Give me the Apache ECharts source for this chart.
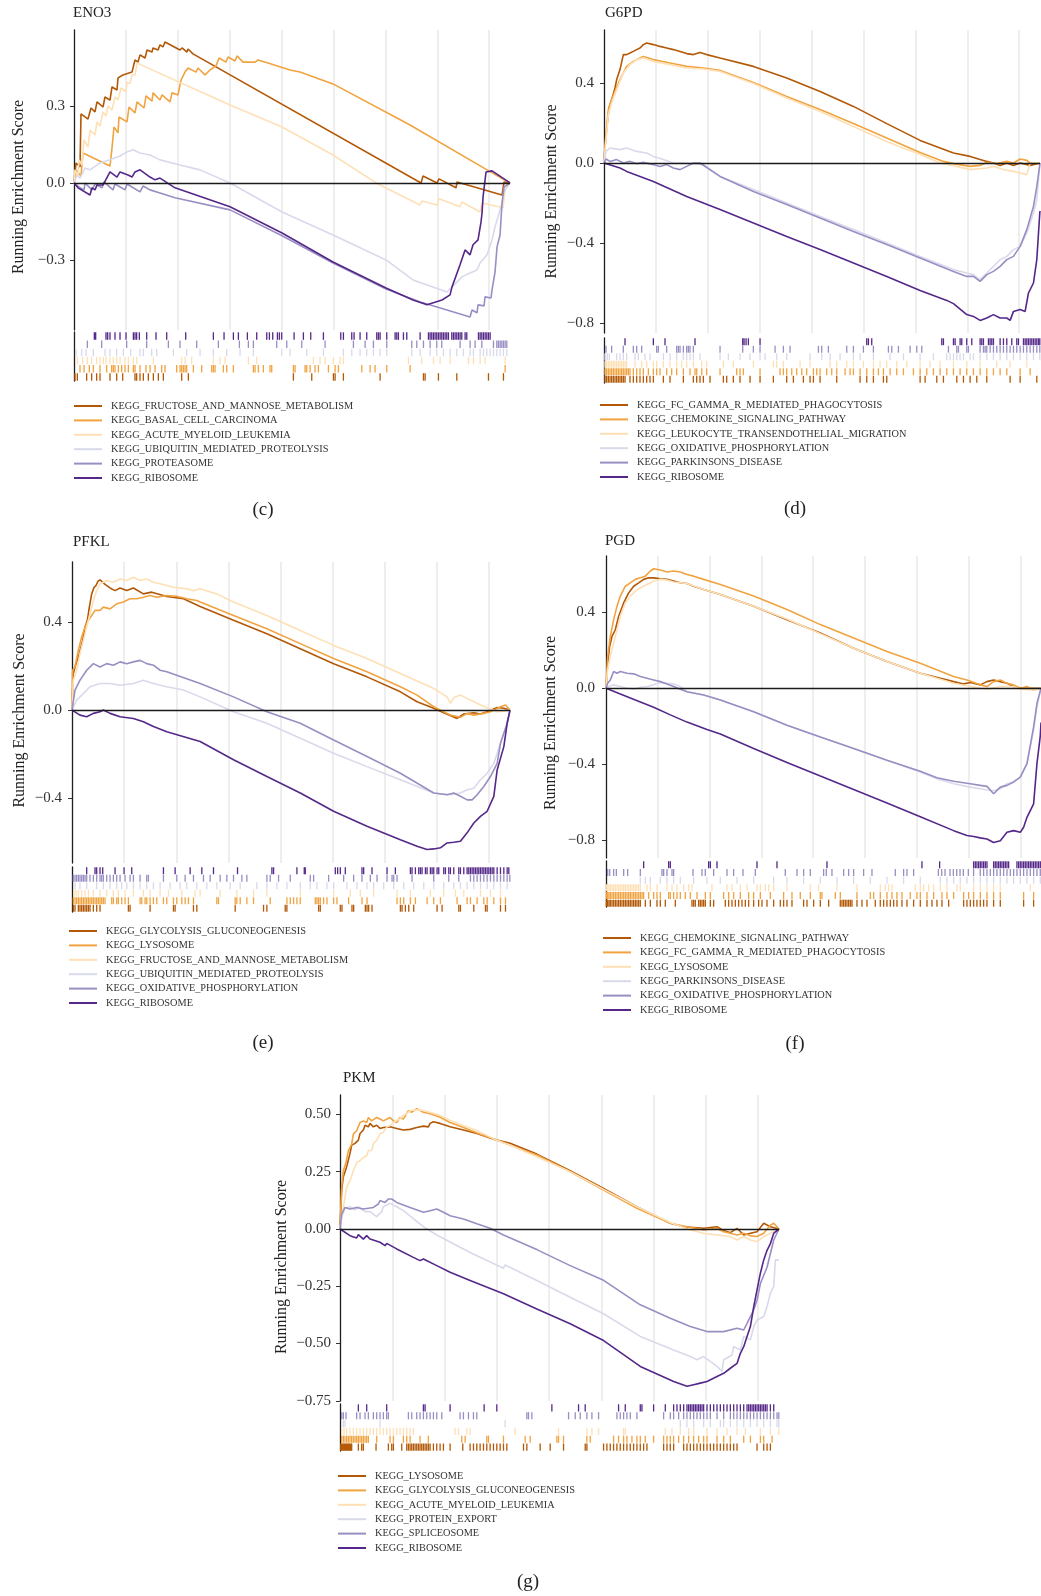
<!DOCTYPE html>
<html>
<head>
<meta charset="utf-8">
<script src="https://cdn.jsdelivr.net/npm/echarts@6/dist/echarts.min.js"></script>
<style>html,body{margin:0;padding:0;background:#fff}#chart{width:1041px;height:1596px}</style>
</head>
<body>
<div id="chart"></div>
<script>
const N_GENES = 21000;
const PALETTE = ['#B35806', '#F1A340', '#FEE0B6', '#D8DAEB', '#998EC3', '#542788'];

/* ---------- (c) ENO3 ---------- */
const enoTerms = ['KEGG_FRUCTOSE_AND_MANNOSE_METABOLISM','KEGG_BASAL_CELL_CARCINOMA','KEGG_ACUTE_MYELOID_LEUKEMIA','KEGG_UBIQUITIN_MEDIATED_PROTEOLYSIS','KEGG_PROTEASOME','KEGG_RIBOSOME'];
const enoFructose = [[0,0],[96,0.078],[289,0.062],[337,0.269],[674,0.249],[819,0.292],[1012,0.277],[1108,0.316],[1397,0.296],[1493,0.335],[1734,0.323],[1830,0.374],[2071,0.362],[2119,0.409],[2360,0.421],[2794,0.432],[2938,0.479],[3083,0.471],[3179,0.499],[3420,0.487],[3516,0.518],[3757,0.51],[3805,0.526],[4046,0.518],[4143,0.538],[4287,0.53],[4383,0.549],[5106,0.518],[5202,0.526],[5443,0.51],[5491,0.522],[5732,0.503],[16715,0],[16811,0.027],[17486,0],[17582,0.016],[18401,-0.019],[18449,0.004],[20617,-0.047],[20713,0.004],[21000,0]];
const enoBasal = [[0,0],[96,0.051],[337,0.027],[434,0.117],[1734,0.066],[1830,0.136],[1927,0.218],[2119,0.195],[2168,0.257],[2553,0.238],[2649,0.296],[2938,0.273],[3035,0.316],[3372,0.292],[3468,0.339],[3757,0.319],[3805,0.351],[4143,0.323],[4239,0.343],[4624,0.316],[4721,0.351],[5010,0.343],[5154,0.401],[5347,0.432],[5491,0.448],[5877,0.432],[5973,0.448],[6310,0.421],[6551,0.44],[6840,0.456],[6985,0.487],[7322,0.471],[7418,0.491],[7755,0.475],[7852,0.495],[8141,0.471],[8719,0.471],[8863,0.479],[9345,0.467],[10405,0.44],[10886,0.432],[12476,0.386],[16185,0.226],[19894,0.051],[21000,0]];
const enoAml = [[0,0],[48,0.051],[193,0.027],[241,0.09],[385,0.07],[482,0.168],[674,0.14],[771,0.206],[1012,0.187],[1108,0.238],[1252,0.222],[1397,0.277],[1541,0.261],[1638,0.3],[1830,0.284],[1975,0.335],[2119,0.323],[2264,0.37],[2505,0.355],[2553,0.393],[2698,0.386],[2794,0.421],[2938,0.421],[3035,0.467],[7515,0.304],[10020,0.218],[12476,0.109],[14547,0],[16667,-0.086],[16763,-0.07],[17486,-0.086],[17582,-0.062],[18594,-0.093],[18690,-0.074],[19557,-0.113],[19653,-0.078],[20665,-0.097],[20761,-0.027],[21000,0]];
const enoUbiquitin = [[0,0],[145,0.031],[289,0.019],[530,0.058],[771,0.051],[1252,0.078],[1734,0.09],[2216,0.105],[2553,0.121],[2842,0.129],[3179,0.117],[3661,0.109],[4143,0.09],[5106,0.07],[6069,0.051],[7515,0],[10020,-0.113],[12476,-0.203],[15029,-0.3],[16330,-0.378],[17967,-0.425],[18208,-0.405],[18690,-0.366],[19075,-0.351],[19412,-0.339],[19557,-0.312],[19894,-0.28],[20135,-0.222],[20279,-0.171],[20424,-0.132],[20617,-0.078],[20761,-0.027],[21000,0]];
const enoProteasome = [[0,0],[289,-0.019],[482,-0.027],[530,0],[867,-0.027],[1012,-0.004],[1349,-0.019],[1445,0.004],[1879,-0.027],[1975,-0.004],[2457,-0.027],[2553,-0.004],[3179,-0.035],[3324,-0.012],[3661,-0.027],[4143,-0.039],[4865,-0.058],[7515,-0.105],[10020,-0.206],[12476,-0.312],[15029,-0.413],[16667,-0.464],[17486,-0.483],[19075,-0.522],[19171,-0.495],[19412,-0.506],[19460,-0.475],[19749,-0.479],[19797,-0.444],[20086,-0.448],[20135,-0.417],[20279,-0.347],[20376,-0.249],[20520,-0.203],[20617,-0.078],[20713,-0.016],[21000,0]];
const enoRibosome = [[0,0],[193,-0.019],[771,-0.047],[867,-0.019],[1012,-0.027],[1108,-0.008],[1397,-0.008],[1734,0.043],[2071,0.023],[2216,0.043],[2601,0.031],[2794,0.023],[2938,0.043],[3179,0.051],[3661,0.023],[3902,0.012],[4143,0.019],[4865,-0.019],[7515,-0.093],[10020,-0.195],[12476,-0.308],[15029,-0.409],[16330,-0.456],[17004,-0.475],[17726,-0.456],[18112,-0.436],[18208,-0.405],[18594,-0.319],[18835,-0.261],[19075,-0.28],[19220,-0.241],[19460,-0.222],[19605,-0.152],[19653,-0.117],[19701,-0.055],[19846,0.043],[20135,0.047],[21000,0]];
const enoFructoseHits = [48,161,610,851,1092,1253,1734,2056,2345,2939,3019,3180,3340,3581,3822,4063,4304,5187,5509,10567,11451,12495,12575,12976,14743,16831,16911,17553,18437,19963,20685];
const enoBasalHits = [289,482,739,931,1253,1574,1815,1895,1975,2136,2297,2457,2618,2859,2939,3180,3469,3662,3903,4224,4384,4946,5107,5187,5268,5348,5428,5749,6151,6633,6713,6793,7195,7355,7677,8640,8721,8881,9122,9443,9524,10567,10648,11130,11210,11370,11611,11772,12254,12575,12736,13860,14261,14502,15064,16188,20766];
const enoAmlHits = [161,418,642,851,1092,1253,1413,1542,1734,1895,2056,2216,2457,2618,2859,3019,3822,5187,5348,5669,6713,7034,7275,8399,8801,11531,11852,12093,12495,12816,12976,16108,16750,17313,17634,18116,18999,19240,19561,19802,20766];
const enoUbiquitinHits = [96,369,578,931,1494,1734,2056,2377,2730,3180,3340,3742,3983,4786,5428,6071,6713,7355,7998,8640,10005,10407,11210,12013,12976,13378,13779,14100,14422,14743,15064,16269,16670,17152,17473,17794,18116,18437,18758,19079,19240,19561,19722,19883,20043,20204,20364,20525,20685,20846];
const enoProteasomeHits = [642,1333,2537,3501,4545,5107,5910,6954,7966,8399,8640,9764,10246,10969,12093,13458,14020,14422,15064,16269,16510,16831,17152,17473,17714,18597,19079,19320,19642,20204,20364,20444,20525,20605,20685,20766,20846];
const enoRibosomeHits = [980,1044,1542,1622,1734,1975,2216,2505,2859,2939,3019,3148,3501,3951,4465,5380,6713,7227,7677,7918,8351,8801,9283,9411,9572,9797,9893,10005,10600,11049,11403,12013,12848,12976,13378,13490,13779,14100,14582,14662,14743,15064,15465,15546,15626,15867,16028,16670,17072,17152,17232,17313,17393,17473,17553,17634,17714,17794,17875,17955,18035,18196,18276,18356,18437,18517,18597,18678,18838,18919,19481,19562,19642,19722,19803,19883,19963,20043];

/* ---------- (d) G6PD ---------- */
const g6pdTerms = ['KEGG_FC_GAMMA_R_MEDIATED_PHAGOCYTOSIS','KEGG_CHEMOKINE_SIGNALING_PATHWAY','KEGG_LEUKOCYTE_TRANSENDOTHELIAL_MIGRATION','KEGG_OXIDATIVE_PHOSPHORYLATION','KEGG_PARKINSONS_DISEASE','KEGG_RIBOSOME'];
const g6pdFcGamma = [[0,0],[48,0.083],[161,0.2],[257,0.283],[369,0.317],[530,0.375],[610,0.417],[771,0.467],[931,0.542],[1092,0.542],[1253,0.55],[1413,0.558],[1574,0.567],[1734,0.575],[1895,0.592],[2056,0.6],[2377,0.592],[2698,0.583],[3019,0.575],[3340,0.567],[3662,0.558],[3983,0.547],[4304,0.542],[4625,0.553],[4946,0.542],[5589,0.525],[7195,0.483],[8801,0.425],[10407,0.358],[12013,0.283],[13619,0.197],[15225,0.113],[16831,0.05],[17634,0.033],[18437,0.008],[18758,0],[19079,-0.012],[19400,0],[19722,-0.012],[20043,0],[20525,-0.012],[21000,0]];
const g6pdChemokine = [[0,0],[96,0.15],[209,0.267],[369,0.317],[530,0.358],[771,0.417],[1092,0.483],[1413,0.508],[1734,0.525],[1895,0.533],[2377,0.517],[3180,0.5],[3983,0.483],[4786,0.475],[5589,0.463],[7195,0.403],[8801,0.333],[10407,0.267],[12013,0.197],[13619,0.125],[15225,0.053],[16349,0.008],[16831,-0.003],[17634,-0.017],[18116,-0.012],[18437,0.003],[18919,-0.003],[19400,0.008],[19722,0],[20043,0.02],[20364,0.013],[20525,0],[21000,0]];
const g6pdLeukocyte = [[0,0],[96,0.117],[209,0.242],[369,0.3],[610,0.367],[931,0.45],[1253,0.492],[1574,0.517],[1895,0.525],[2377,0.508],[3180,0.492],[3983,0.475],[4786,0.47],[5589,0.458],[7195,0.397],[8801,0.325],[10407,0.258],[12013,0.183],[13619,0.108],[15225,0.042],[16188,0],[16831,-0.013],[17634,-0.033],[18437,-0.025],[18758,-0.017],[19240,-0.033],[19722,-0.042],[20364,-0.058],[20525,0],[21000,0]];
const g6pdOxidative = [[0,0],[96,0.058],[289,0.075],[771,0.067],[1092,0.075],[1574,0.058],[2056,0.05],[2377,0.033],[2859,0.017],[3340,0],[3983,0],[4786,-0.008],[5589,-0.067],[7195,-0.133],[8801,-0.2],[10407,-0.267],[12013,-0.333],[13619,-0.4],[15225,-0.467],[16831,-0.533],[17473,-0.55],[17794,-0.558],[18116,-0.583],[18437,-0.55],[18758,-0.517],[19079,-0.483],[19400,-0.467],[19722,-0.433],[20043,-0.417],[20364,-0.35],[20685,-0.25],[20846,-0.183],[21000,0]];
const g6pdParkinsons = [[0,0],[96,0.02],[289,0.008],[610,0.017],[931,0],[1253,0.008],[1574,-0.003],[1895,0.003],[2377,-0.008],[2698,-0.017],[3019,-0.008],[3340,-0.025],[3662,-0.033],[3983,-0.017],[4304,0],[4625,0],[5589,-0.067],[7195,-0.142],[8801,-0.208],[10407,-0.275],[12013,-0.342],[13619,-0.408],[15225,-0.475],[16831,-0.542],[17473,-0.567],[17794,-0.567],[18116,-0.592],[18437,-0.558],[18758,-0.542],[19079,-0.517],[19400,-0.483],[19722,-0.467],[20043,-0.417],[20364,-0.333],[20685,-0.217],[20846,-0.117],[21000,0]];
const g6pdRibosome = [[0,0],[771,-0.025],[1092,-0.042],[2377,-0.092],[3983,-0.167],[5589,-0.233],[7195,-0.3],[8801,-0.367],[10407,-0.433],[12013,-0.5],[13619,-0.567],[15225,-0.637],[16510,-0.687],[16831,-0.703],[17473,-0.758],[17794,-0.767],[18116,-0.787],[18437,-0.775],[18758,-0.758],[19079,-0.775],[19400,-0.775],[19561,-0.787],[19722,-0.742],[20043,-0.733],[20284,-0.742],[20444,-0.65],[20685,-0.6],[20846,-0.483],[20990,-0.25],[21000,-0.24]];
const g6pdFcGammaHits = [48,128,209,289,369,450,530,610,690,771,851,931,1012,1253,1413,1574,1734,1895,2056,2216,2377,2859,3180,3822,4304,4465,4625,4786,5107,5749,5910,6231,6552,7034,7516,8158,8801,9122,9604,9925,10086,10407,11210,12334,12655,12976,13458,13619,15225,15466,16028,16349,16992,17313,17634,17955,18437,19561,20043,20846];
const g6pdChemokineHits = [48,128,209,289,369,450,530,610,690,771,851,931,1012,1092,1172,1253,1413,1574,1734,1895,2136,2377,2537,2698,3019,3260,3501,3822,4143,4384,4465,4706,4946,5589,6392,6552,6713,7516,8480,8640,8801,9042,9283,9524,9764,10086,10246,10407,10728,10969,11210,11611,11852,12013,12334,12655,12976,13217,13458,13779,14100,14422,14904,15225,15546,15867,16188,16510,16831,17152,17473,17794,18116,18437,18758,19079,19400,20043,20525];
const g6pdLeukocyteHits = [48,128,209,289,369,450,530,610,690,771,851,931,1012,1092,1494,1815,2056,2377,2537,2859,3180,3501,3742,3983,4304,4706,4946,5749,6231,7195,8158,8319,8640,9443,9925,10889,11210,11692,12013,12495,12976,13297,13619,14100,14582,15225,15707,16188,16831,17473,18116,18919,19561,20364];
const g6pdOxidativeHits = [48,161,257,610,771,931,1092,1494,1654,1975,2216,2859,3180,3501,3822,3983,4143,4304,4625,5589,5990,6552,7034,7516,7757,8319,8801,9925,10487,10889,11370,12013,12334,12976,13779,14422,15225,15867,16510,16670,16831,16992,17152,17313,17634,17794,18116,18437,18758,19079,19400,19722,20043,20364,20685,20990];
const g6pdParkinsonsHits = [96,369,931,1413,1574,1815,2537,2618,3019,3501,3581,3662,3822,3983,4063,4143,4304,5589,6681,7195,7516,8239,8640,8961,10327,10487,10808,11692,12013,12495,12976,13699,13860,14181,14743,15064,15305,16590,16992,17072,17473,17553,18116,18276,18357,18437,18598,18758,18919,19079,19240,19400,19561,19722,19882,20043,20203,20364,20525,20685,20846,20990];
const g6pdRibosomeHits = [1012,2377,2939,4384,6681,6745,6842,6954,7516,12655,12736,12896,16269,16349,16831,16911,17152,17232,17473,17714,18116,18196,18276,18517,18597,18678,18758,19079,19240,19400,19641,19882,19963,20203,20284,20364,20444,20525,20605,20685,20766,20846,20926,20990];

/* ---------- (e) PFKL ---------- */
const pfklTerms = ['KEGG_GLYCOLYSIS_GLUCONEOGENESIS','KEGG_LYSOSOME','KEGG_FRUCTOSE_AND_MANNOSE_METABOLISM','KEGG_UBIQUITIN_MEDIATED_PROTEOLYSIS','KEGG_OXIDATIVE_PHOSPHORYLATION','KEGG_RIBOSOME'];
const pfklGlycolysis = [[0,0],[64,0.166],[192,0.211],[352,0.257],[512,0.317],[624,0.377],[736,0.408],[832,0.468],[944,0.528],[1056,0.558],[1152,0.566],[1248,0.586],[1344,0.592],[1584,0.571],[1824,0.555],[2064,0.543],[2304,0.555],[2624,0.543],[2944,0.555],[3424,0.528],[3824,0.536],[4544,0.516],[5344,0.506],[6144,0.471],[7744,0.408],[9344,0.347],[10944,0.279],[12544,0.211],[14144,0.151],[15744,0.083],[16544,0.038],[17344,0.008],[17824,-0.012],[18464,-0.038],[18784,-0.018],[19264,-0.012],[19584,-0.018],[19904,-0.008],[20384,0.012],[20704,0.008],[21000,0]];
const pfklLysosome = [[0,0],[32,0.181],[144,0.196],[304,0.272],[464,0.332],[624,0.377],[784,0.408],[944,0.43],[1104,0.453],[1344,0.453],[1504,0.468],[1824,0.46],[2144,0.483],[2464,0.491],[2784,0.506],[3104,0.506],[3424,0.513],[3744,0.521],[4064,0.513],[4544,0.521],[5024,0.517],[5504,0.506],[5984,0.498],[6144,0.491],[7744,0.43],[9344,0.37],[10944,0.302],[12544,0.234],[14144,0.174],[15744,0.106],[16544,0.068],[17344,0.015],[18144,-0.023],[18624,-0.033],[18944,-0.015],[19264,-0.023],[19744,-0.015],[20064,-0.008],[20544,0.015],[20784,0.023],[21000,0]];
const pfklFructose = [[0,0],[64,0.136],[224,0.181],[384,0.257],[544,0.317],[704,0.377],[864,0.438],[1024,0.498],[1184,0.543],[1344,0.573],[1664,0.589],[1984,0.581],[2304,0.596],[2624,0.589],[2944,0.604],[3264,0.589],[3584,0.596],[3904,0.581],[4224,0.574],[4544,0.566],[4864,0.558],[5504,0.551],[5824,0.543],[6144,0.551],[6944,0.528],[7744,0.491],[9344,0.43],[10944,0.362],[12544,0.294],[14144,0.234],[15744,0.166],[17344,0.098],[17984,0.06],[18144,0.03],[18304,0.057],[18624,0.068],[19584,0.023],[20384,-0.008],[21000,0]];
const pfklUbiquitin = [[0,0],[224,0.045],[544,0.075],[864,0.106],[1344,0.121],[1824,0.121],[2304,0.113],[2944,0.121],[3424,0.136],[3904,0.121],[4544,0.106],[5344,0.091],[6144,0.06],[7744,-0.008],[9344,-0.06],[10944,-0.128],[12544,-0.196],[14144,-0.257],[15744,-0.317],[17344,-0.377],[18144,-0.385],[18624,-0.377],[18944,-0.362],[19264,-0.355],[19584,-0.317],[19904,-0.287],[20224,-0.242],[20544,-0.151],[20864,-0.06],[21000,0]];
const pfklOxidative = [[0,0],[144,0.091],[384,0.136],[704,0.181],[1024,0.211],[1344,0.196],[1664,0.211],[1984,0.204],[2304,0.219],[2624,0.211],[2944,0.219],[3264,0.226],[3584,0.211],[3904,0.204],[4224,0.181],[4544,0.174],[6144,0.121],[7744,0.06],[9344,-0.008],[10944,-0.06],[12544,-0.136],[14144,-0.211],[15744,-0.287],[17344,-0.377],[17984,-0.385],[18304,-0.377],[18624,-0.392],[18944,-0.408],[19184,-0.408],[19424,-0.385],[19744,-0.347],[20064,-0.302],[20384,-0.242],[20544,-0.151],[20864,-0.06],[21000,0]];
const pfklRibosome = [[0,0],[384,-0.023],[704,-0.03],[1024,-0.015],[1344,-0.008],[1504,0],[1824,-0.015],[2304,-0.03],[2944,-0.038],[3424,-0.053],[3904,-0.075],[4544,-0.098],[6144,-0.143],[7744,-0.226],[9344,-0.302],[10944,-0.377],[12544,-0.46],[14144,-0.528],[15744,-0.589],[16544,-0.619],[17024,-0.634],[17344,-0.631],[17664,-0.626],[17984,-0.604],[18304,-0.601],[18624,-0.596],[18944,-0.558],[19264,-0.513],[19584,-0.483],[19904,-0.46],[20224,-0.392],[20384,-0.272],[20704,-0.166],[20864,-0.06],[21000,0]];
const pfklGlycolysisHits = [64,144,304,384,464,544,624,704,784,864,1024,1184,1344,2704,2784,3744,4864,4944,5824,5984,7824,9184,9344,10224,10304,11824,11904,12864,12944,13424,13504,14064,14144,14224,14384,15744,15824,15984,16144,16384,17504,17744,18544,18624,19264,19824,19904,20544,20784];
const pfklLysosomeHits = [64,144,224,304,384,464,544,624,704,784,864,944,1024,1104,1184,1264,1344,1424,1504,1584,1904,1984,2144,2224,2384,2544,2704,3264,3344,3504,3584,3744,3904,4064,4384,4544,4864,5024,5264,5424,5584,5824,6944,7024,7824,7904,8064,8384,8704,9504,10304,10464,10624,10784,10944,11664,11744,11824,11904,12064,12224,12544,12704,13264,13904,14144,15584,15744,15904,16224,16464,17024,17344,17664,18464,18944,19104,19424,19744,19904,20224,20544,20784];
const pfklFructoseHits = [96,192,304,464,624,784,1024,1344,1664,1984,2224,2544,2944,3424,3744,4224,4624,5264,5904,6144,7104,7904,8704,9344,10944,12544,13344,13824,14464,15584,16224,17184,17824,18384,18784,19584,20064,20544];
const pfklUbiquitinHits = [144,384,704,1184,1504,1824,2144,2384,2624,2944,3264,3584,3904,4224,4704,5184,5504,5984,6464,6944,7584,8064,8864,9344,9824,10304,10944,11424,11744,12224,12544,13184,13664,14144,14464,14944,15424,15904,16384,16864,17344,17824,18304,18624,18944,19264,19584,19904,20224,20544,20864];
const pfklOxidativeHits = [64,144,224,304,384,464,544,624,704,864,1024,1184,1344,1424,1504,1664,1824,1984,2144,2304,2544,2784,2944,3264,3584,3664,4384,5024,5424,5824,6304,6624,7104,7424,7744,8144,8384,9344,9504,9904,10464,11424,11584,12304,13024,13504,13904,14304,14624,15104,15344,15424,15584,16304,17344,18064,18544,19104,19264,19424,19584,19744,19904,20064,20224,20384,20544,20704,20864,20990];
const pfklRibosomeHits = [704,1104,1184,1344,1472,2064,2496,2864,4384,4944,5664,6224,6784,7936,9584,9664,10784,11136,11184,12624,12736,12864,13104,13904,13984,14384,15104,15504,16224,16304,16464,16624,16704,16784,16944,17024,17184,17264,17344,17504,17584,17824,17904,18064,18144,18304,18544,18624,18784,18944,19024,19104,19184,19264,19344,19424,19504,19584,19664,19744,19824,19904,19984,20064,20144,20224,20384,20544,20704,20864,20944];

/* ---------- (f) PGD ---------- */
const pgdTerms = ['KEGG_CHEMOKINE_SIGNALING_PATHWAY','KEGG_FC_GAMMA_R_MEDIATED_PHAGOCYTOSIS','KEGG_LYSOSOME','KEGG_PARKINSONS_DISEASE','KEGG_OXIDATIVE_PHOSPHORYLATION','KEGG_RIBOSOME'];
const pgdChemokine = [[0,0],[80,0.132],[177,0.22],[290,0.273],[451,0.308],[611,0.379],[853,0.449],[1094,0.502],[1335,0.537],[1577,0.555],[1818,0.573],[2059,0.581],[2301,0.581],[2623,0.576],[2944,0.573],[3266,0.564],[3588,0.555],[3910,0.551],[4232,0.537],[4714,0.52],[5519,0.493],[7128,0.432],[8737,0.361],[10346,0.291],[11955,0.211],[13564,0.141],[15173,0.079],[16782,0.035],[17265,0.023],[17587,0.03],[18070,0.018],[18391,0.035],[18713,0.044],[19035,0.035],[19357,0.026],[19679,0.009],[20000,0],[20322,0],[21000,0]];
const pgdFcGamma = [[0,0],[80,0.167],[209,0.273],[370,0.361],[531,0.432],[692,0.485],[933,0.537],[1174,0.555],[1416,0.573],[1657,0.582],[1899,0.59],[2140,0.617],[2301,0.629],[2623,0.622],[2944,0.612],[3266,0.617],[3588,0.612],[3910,0.599],[4232,0.59],[4714,0.573],[5519,0.546],[7128,0.485],[8737,0.414],[10346,0.335],[11955,0.264],[13564,0.194],[15173,0.132],[16782,0.062],[17426,0.044],[18070,0.018],[18391,0.009],[18713,0.035],[19035,0.044],[19357,0.026],[19679,0.018],[20000,0],[20322,0.009],[20644,-0.009],[21000,0]];
const pgdLysosome = [[0,0],[80,0.097],[209,0.167],[370,0.238],[531,0.308],[692,0.379],[933,0.449],[1174,0.485],[1416,0.511],[1657,0.529],[1979,0.546],[2301,0.564],[2623,0.573],[2944,0.57],[3266,0.559],[3588,0.555],[3910,0.551],[4714,0.52],[5519,0.493],[7128,0.432],[8737,0.365],[10346,0.287],[11955,0.211],[13564,0.141],[15173,0.079],[16782,0.026],[17587,0.009],[18070,0],[18391,-0.005],[19035,0.009],[19679,0.009],[20000,-0.005],[20644,-0.009],[21000,0]];
const pgdParkinsons = [[0,0],[129,0.009],[370,0.018],[692,0.009],[1013,0],[1335,-0.005],[1657,0.005],[1979,0.009],[2301,0.018],[2623,0.03],[2944,0.026],[3266,0.023],[3588,0.009],[3910,-0.018],[4714,-0.035],[5519,-0.062],[7128,-0.123],[8737,-0.194],[10346,-0.256],[11955,-0.317],[13564,-0.379],[15173,-0.441],[15977,-0.476],[16782,-0.502],[17587,-0.52],[18070,-0.529],[18391,-0.535],[18713,-0.539],[19035,-0.529],[19357,-0.502],[19679,-0.493],[20000,-0.467],[20322,-0.396],[20644,-0.22],[20805,-0.097],[21000,0]];
const pgdOxidative = [[0,0],[80,0.026],[209,0.044],[370,0.088],[531,0.079],[692,0.088],[1013,0.079],[1335,0.076],[1657,0.062],[1979,0.053],[2301,0.044],[2623,0.035],[2944,0.023],[3266,0.009],[3588,-0.005],[3910,-0.018],[4714,-0.035],[5519,-0.062],[7128,-0.123],[8737,-0.194],[10346,-0.256],[11955,-0.317],[13564,-0.379],[15173,-0.436],[15977,-0.471],[16782,-0.489],[17587,-0.502],[18070,-0.511],[18391,-0.516],[18713,-0.555],[19035,-0.52],[19357,-0.511],[19679,-0.493],[20000,-0.467],[20322,-0.396],[20644,-0.203],[20805,-0.079],[21000,0]];
const pgdRibosome = [[0,0],[692,-0.03],[1657,-0.072],[2301,-0.1],[3105,-0.14],[3910,-0.178],[4875,-0.217],[5519,-0.241],[7128,-0.317],[8737,-0.39],[10346,-0.462],[11955,-0.533],[13564,-0.604],[15173,-0.676],[16782,-0.749],[17426,-0.775],[17748,-0.78],[18070,-0.787],[18391,-0.793],[18713,-0.811],[19035,-0.802],[19357,-0.758],[19679,-0.749],[20000,-0.758],[20161,-0.731],[20322,-0.679],[20644,-0.608],[20805,-0.396],[20966,-0.25],[21000,-0.18]];
const pgdChemokineHits = [16,80,145,209,290,370,451,531,611,692,772,853,933,1013,1094,1174,1255,1335,1416,1496,1577,1657,1899,2140,2462,2623,2864,3347,4151,4232,4312,4473,4553,4634,4714,4795,5036,5197,5760,5921,6082,6243,6404,6565,6726,6887,7128,7369,7530,7771,8093,8415,8576,8737,8978,9541,9703,10024,10346,10748,11311,11392,11472,11553,11633,11714,11794,11875,12116,12357,12598,13000,13242,13403,13564,13725,13886,14047,14288,14529,14851,15173,15495,15736,15977,16218,16541,17265,17426,17587,17748,17908,18069,18230,18391,18713,19035,20161,20644];
const pgdFcGammaHits = [16,80,145,209,290,370,451,531,611,692,772,853,933,1013,1094,1174,1255,1335,1416,1496,1577,1657,1738,1818,2059,2301,2462,2623,3025,3105,3266,3427,3588,3829,4071,4393,4795,5036,5680,5922,6163,6484,6886,7128,7450,7932,8576,8978,9380,9863,10346,10426,11070,11311,12115,12760,12921,13242,13564,13805,14046,14288,14690,15012,15173,15495,15816,16218,16460,16782,17265,17506,17748,18070,18391,18713,19035,20161,20644];
const pgdLysosomeHits = [16,80,145,209,290,370,451,531,611,692,772,853,933,1013,1094,1174,1255,1335,1416,1496,1577,1657,1979,2140,2462,2944,3186,3427,3749,3990,4151,5116,5841,6082,6484,6806,7289,7450,7691,7852,8093,8737,9863,10265,11150,12115,13242,13483,13644,13805,14931,15173,15334,15575,15816,16138,16460,16943,17104,17748,18070,18391,18713,19035,20483];
const pgdParkinsonsHits = [1657,1899,2140,2623,2944,3266,3588,4232,4875,5519,6323,7128,8093,8737,9541,10346,11150,11955,12760,13564,14368,15173,16138,16460,16782,17104,17426,17747,18069,18391,18713,19035,19357,19679,20000,20322,20644,20966];
const pgdOxidativeHits = [80,177,370,499,853,1046,1657,2703,2784,2944,3186,3266,4200,4634,4795,5197,5841,6162,6613,7208,8656,9219,9541,9863,10506,10635,10909,11472,11714,11955,12437,12840,13966,14368,14529,14851,16045,16206,16367,16608,16769,16930,17091,17251,17492,17747,18069,18230,18391,18552,18713,18874,19035,19196,19357,19518,19679,19839,20000,20161,20322,20483,20644,20805,20966];
const pgdRibosomeHits = [1818,3025,3105,4956,5036,5358,7289,8254,10668,15253,16106,17747,17828,17908,17989,18069,18149,18230,18310,18391,18713,18793,18874,18954,19035,19115,19196,19276,19357,19437,19839,19919,20000,20080,20161,20241,20322,20402,20483,20563,20644,20724,20805,20885,20966];

/* ---------- (g) PKM ---------- */
const pkmTerms = ['KEGG_LYSOSOME','KEGG_GLYCOLYSIS_GLUCONEOGENESIS','KEGG_ACUTE_MYELOID_LEUKEMIA','KEGG_PROTEIN_EXPORT','KEGG_SPLICEOSOME','KEGG_RIBOSOME'];
const pkmLysosome = [[0,0],[80,0.17],[160,0.228],[319,0.272],[479,0.33],[559,0.366],[718,0.374],[878,0.388],[958,0.417],[1117,0.432],[1197,0.453],[1357,0.446],[1436,0.461],[1596,0.446],[1756,0.453],[1915,0.439],[2075,0.443],[2394,0.446],[2713,0.439],[3032,0.432],[3352,0.435],[3671,0.443],[3990,0.449],[4229,0.446],[4309,0.461],[4469,0.468],[4788,0.461],[5267,0.446],[5905,0.432],[6544,0.417],[7501,0.388],[8140,0.374],[9416,0.327],[11012,0.254],[12608,0.177],[14204,0.097],[15800,0.025],[16439,0.01],[17396,0.003],[18035,0.01],[18354,-0.007],[18673,-0.016],[18992,0.003],[19312,-0.026],[19631,-0.019],[19950,-0.012],[20269,0.025],[20588,0.01],[21000,0]];
const pkmGlycolysis = [[0,0],[80,0.182],[160,0.254],[287,0.29],[399,0.341],[559,0.37],[638,0.414],[798,0.429],[958,0.465],[1117,0.472],[1277,0.465],[1357,0.487],[1516,0.472],[1756,0.487],[1915,0.48],[2075,0.472],[2394,0.487],[2554,0.472],[2713,0.465],[2873,0.487],[3032,0.48],[3272,0.517],[3432,0.51],[3671,0.525],[3990,0.51],[4309,0.503],[4788,0.488],[5267,0.465],[5905,0.443],[6703,0.414],[7501,0.388],[8140,0.366],[9416,0.323],[11012,0.25],[12608,0.17],[14204,0.09],[15800,0.025],[16598,0.01],[17396,-0.004],[18035,0.003],[18354,-0.012],[18673,-0.019],[18992,-0.026],[19312,-0.019],[19631,-0.03],[19950,-0.033],[20269,-0.019],[20588,0.017],[20747,0.025],[21000,0]];
const pkmAml = [[0,0],[80,0.051],[239,0.138],[319,0.182],[479,0.211],[638,0.254],[798,0.29],[958,0.298],[1117,0.312],[1277,0.32],[1357,0.343],[1516,0.343],[1596,0.372],[1756,0.387],[1915,0.416],[2075,0.423],[2234,0.445],[2394,0.452],[2713,0.474],[2873,0.481],[3032,0.497],[3192,0.503],[3352,0.517],[3671,0.52],[3990,0.517],[4309,0.51],[4788,0.496],[5267,0.474],[5905,0.452],[6703,0.423],[7501,0.387],[8140,0.366],[9416,0.315],[11012,0.25],[12608,0.173],[14204,0.097],[15800,0.028],[16758,-0.004],[17396,-0.019],[18035,-0.026],[18673,-0.033],[18992,-0.048],[19312,-0.033],[19631,-0.048],[19950,-0.055],[20269,-0.033],[20588,-0.019],[21000,0]];
const pkmProteinExport = [[0,0],[80,0.054],[239,0.09],[479,0.097],[718,0.083],[878,0.097],[1197,0.076],[1436,0.076],[1756,0.054],[1995,0.076],[2075,0.097],[2394,0.112],[2713,0.097],[3032,0.08],[3990,0.01],[4628,-0.026],[6224,-0.103],[7820,-0.171],[7900,-0.157],[9416,-0.225],[11012,-0.298],[12608,-0.37],[14364,-0.469],[15960,-0.528],[16758,-0.557],[17077,-0.571],[17396,-0.557],[18035,-0.6],[18274,-0.622],[18354,-0.571],[18753,-0.55],[18833,-0.513],[19152,-0.528],[19312,-0.469],[19631,-0.484],[19791,-0.426],[19950,-0.397],[20269,-0.382],[20429,-0.339],[20588,-0.28],[20747,-0.251],[20827,-0.135],[21000,-0.135]];
const pkmSpliceosome = [[0,0],[80,0.065],[239,0.094],[479,0.087],[798,0.094],[1117,0.087],[1596,0.094],[1835,0.109],[1915,0.124],[2154,0.116],[2314,0.131],[2473,0.131],[2713,0.116],[3352,0.094],[3990,0.073],[4309,0.08],[4628,0.087],[4948,0.073],[5267,0.058],[5905,0.044],[6544,0.023],[7182,0.003],[7820,-0.026],[9416,-0.09],[11012,-0.16],[12608,-0.224],[14364,-0.331],[15800,-0.39],[16758,-0.426],[17556,-0.448],[18354,-0.448],[18992,-0.433],[19312,-0.441],[19471,-0.412],[19791,-0.353],[19950,-0.311],[20110,-0.238],[20429,-0.167],[20747,-0.048],[21000,0]];
const pkmRibosome = [[0,0],[479,-0.029],[798,-0.039],[878,-0.025],[1117,-0.044],[1277,-0.029],[1436,-0.044],[1915,-0.058],[2154,-0.073],[2234,-0.063],[2713,-0.087],[3511,-0.124],[3830,-0.138],[3990,-0.131],[4628,-0.16],[5267,-0.189],[6224,-0.225],[7820,-0.283],[9416,-0.349],[11012,-0.414],[12608,-0.487],[14364,-0.6],[15960,-0.666],[16598,-0.687],[16917,-0.68],[17236,-0.673],[17556,-0.666],[18035,-0.644],[18354,-0.63],[18673,-0.608],[18992,-0.587],[19152,-0.543],[19312,-0.514],[19471,-0.469],[19631,-0.426],[19791,-0.339],[19950,-0.266],[20110,-0.193],[20269,-0.135],[20429,-0.093],[20588,-0.064],[20747,-0.019],[21000,0]];
const pkmLysosomeHits = [32,80,128,176,223,271,319,367,415,463,511,559,878,1037,1117,1724,2314,2474,2554,2953,3192,3272,3352,3431,3511,3591,3671,3751,3830,3910,3990,4070,4150,4229,4309,4469,4628,4788,4948,5267,5873,6224,6384,6544,6703,6863,7022,7182,7342,7501,7661,7820,7980,8778,8938,9576,10055,10693,11731,11810,12608,12768,12928,13087,13247,13406,13566,13726,13885,14045,14204,14364,14524,14683,15481,15641,15800,15960,16439,16598,16758,16918,17077,17237,17396,17556,17716,17875,18035,18194,18354,18514,18673,18833,18992,19950,20269,20429,20588];
const pkmGlycolysisHits = [80,160,239,319,399,479,559,638,718,798,878,958,1037,1117,1197,1277,1357,1756,2394,2554,3032,3192,3352,3830,4229,5825,5985,7022,7102,7820,8858,9097,10374,10454,10694,11810,11970,13087,13326,13566,13726,13965,14204,14364,14603,15002,15481,15641,15800,15960,16199,16439,16678,16918,17157,17396,17556,18035,18354,18673,19312,19631,20110,20269,20668];
const pkmAmlHits = [80,192,319,479,638,798,958,1117,1277,1436,1596,1756,1915,2075,2234,2394,2554,2713,2873,3032,3192,3352,3511,5506,5666,6065,6224,8379,10454,11810,12050,12369,13566,13646,15561,15880,16279,16678,16918,17556,18035,18514,18992,19391,20110,20588,20987];
const pkmProteinExportHits = [160,239,1915,7900,16279,16598,16918,17396,17716,18194,18354,18673,18992,19312,19631,19950,20269,20588,20907,20990];
const pkmSpliceosomeHits = [80,160,287,798,958,1197,1357,1596,1756,1915,2075,2234,2314,3272,3432,3671,3830,3990,4150,4309,4469,4628,4868,5746,5905,6145,6384,6544,8938,9017,9177,10933,11252,11491,11810,12050,12369,13247,13406,13566,13726,13885,14204,15481,15800,15960,16199,16439,16598,16758,16917,17077,17236,17396,17556,17715,18035,18354,18673,18833,18992,19152,19312,19471,19631,19790,19950,20110,20269,20429,20588,20748,20907,20990];
const pkmRibosomeHits = [878,1277,2234,3990,4070,5267,6895,7501,10135,11411,11730,13326,13646,14364,14444,15002,15561,15960,16120,16279,16439,16598,16678,16758,16838,16918,16997,17077,17157,17237,17317,17396,17556,17716,17875,18035,18194,18354,18514,18673,18833,18992,19152,19312,19471,19551,19631,19711,19790,19870,19950,20030,20110,20189,20269,20349,20429,20588,20748];

/* ---------- panel assembly ---------- */
const SERIF = '"Liberation Serif", "DejaVu Serif", "Times New Roman", serif';
const panels = [
  { gene:'ENO3', tag:'(c)', terms:enoTerms,
    curves:[enoFructose,enoBasal,enoAml,enoUbiquitin,enoProteasome,enoRibosome],
    hits:[enoFructoseHits,enoBasalHits,enoAmlHits,enoUbiquitinHits,enoProteasomeHits,enoRibosomeHits],
    yMin:-0.573, yMax:0.596, yTicks:[-0.3,0,0.3], dec:1,
    box:{left:74,top:30,width:436,height:300,rugTop:332,rugH:49,nameGap:47,nameShift:14,lm:9,lgLeft:74,lgTop:400,tLeft:73,tTop:6,capX:263,capY:510} },
  { gene:'G6PD', tag:'(d)', terms:g6pdTerms,
    curves:[g6pdFcGamma,g6pdChemokine,g6pdLeukocyte,g6pdOxidative,g6pdParkinsons,g6pdRibosome],
    hits:[g6pdFcGammaHits,g6pdChemokineHits,g6pdLeukocyteHits,g6pdOxidativeHits,g6pdParkinsonsHits,g6pdRibosomeHits],
    yMin:-0.85, yMax:0.665, yTicks:[-0.8,-0.4,0,0.4], dec:1,
    box:{left:604,top:30,width:436,height:303,rugTop:338,rugH:45,nameGap:44,nameShift:20,lm:10,lgLeft:600,lgTop:399,tLeft:605,tTop:6,capX:795,capY:509} },
  { gene:'PFKL', tag:'(e)', terms:pfklTerms,
    curves:[pfklGlycolysis,pfklLysosome,pfklFructose,pfklUbiquitin,pfklOxidative,pfklRibosome],
    hits:[pfklGlycolysisHits,pfklLysosomeHits,pfklFructoseHits,pfklUbiquitinHits,pfklOxidativeHits,pfklRibosomeHits],
    yMin:-0.695, yMax:0.673, yTicks:[-0.4,0,0.4], dec:1,
    box:{left:72,top:562,width:438,height:301,rugTop:867,rugH:45,nameGap:44,nameShift:16,lm:10,lgLeft:69,lgTop:925,tLeft:73,tTop:535,capX:263,capY:1043} },
  { gene:'PGD', tag:'(f)', terms:pgdTerms,
    curves:[pgdChemokine,pgdFcGamma,pgdLysosome,pgdParkinsons,pgdOxidative,pgdRibosome],
    hits:[pgdChemokineHits,pgdFcGammaHits,pgdLysosomeHits,pgdParkinsonsHits,pgdOxidativeHits,pgdRibosomeHits],
    yMin:-0.893, yMax:0.696, yTicks:[-0.8,-0.4,0,0.4], dec:1,
    box:{left:606,top:556,width:435,height:302,rugTop:861,rugH:46,nameGap:47,nameShift:32,lm:11,lgLeft:603,lgTop:932,tLeft:605,tTop:534,capX:795,capY:1044} },
  { gene:'PKM', tag:'(g)', terms:pkmTerms,
    curves:[pkmLysosome,pkmGlycolysis,pkmAml,pkmProteinExport,pkmSpliceosome,pkmRibosome],
    hits:[pkmLysosomeHits,pkmGlycolysisHits,pkmAmlHits,pkmProteinExportHits,pkmSpliceosomeHits,pkmRibosomeHits],
    yMin:-0.751, yMax:0.585, yTicks:[-0.75,-0.5,-0.25,0,0.25,0.5], dec:2,
    box:{left:340,top:1095,width:439,height:306,rugTop:1404,rugH:47,nameGap:50,nameShift:38,lm:9,lgLeft:338,lgTop:1470,tLeft:343,tTop:1071,capX:528,capY:1582} }
];

const option = { animation:false, backgroundColor:'#ffffff', grid:[], xAxis:[], yAxis:[], series:[], legend:[], title:[], graphic:[] };
const AXIS_DARK = '#1e1e1e';

panels.forEach(p => {
  const b = p.box;
  const gi = option.grid.length;
  option.grid.push({ left:b.left, top:b.top, width:b.width, height:b.height });
  option.grid.push({ left:b.left, top:b.rugTop, width:b.width, height:b.rugH });
  option.xAxis.push({ gridIndex:gi, type:'value', min:0, max:N_GENES, interval:2500,
    axisLine:{show:false}, axisTick:{show:false}, axisLabel:{show:false},
    splitLine:{show:true, showMinLine:false, showMaxLine:false, lineStyle:{color:'#e8e8e8', width:1.5}} });
  option.xAxis.push({ gridIndex:gi+1, type:'value', min:0, max:N_GENES,
    axisLine:{show:false}, axisTick:{show:false}, axisLabel:{show:false}, splitLine:{show:false} });
  const fmt = v => (v < -1e-9 ? '\u2212' : '') + Math.abs(v).toFixed(p.dec);
  option.yAxis.push({ gridIndex:gi, type:'value', min:p.yMin, max:p.yMax,
    name:'Running Enrichment Score', nameLocation:'middle', nameGap:b.nameGap,
    nameTextStyle:{fontFamily:SERIF, fontSize:16, color:'#222', padding:[0, b.nameShift, 0, 0]},
    axisLine:{show:true, onZero:false, lineStyle:{color:AXIS_DARK, width:1.3}},
    axisTick:{show:true, customValues:p.yTicks, length:4, lineStyle:{color:'#333', width:1}},
    axisLabel:{show:true, customValues:p.yTicks, formatter:fmt, margin:b.lm, fontFamily:SERIF, fontSize:15, color:'#333'},
    splitLine:{show:false} });
  option.yAxis.push({ gridIndex:gi+1, type:'value', min:-0.5, max:5.5,
    axisLine:{show:true, onZero:false, lineStyle:{color:AXIS_DARK, width:1.3}},
    axisTick:{show:false}, axisLabel:{show:false}, splitLine:{show:false} });

  p.curves.forEach((data, i) => {
    const s = { type:'line', name:p.terms[i], xAxisIndex:gi, yAxisIndex:gi, data:data,
      showSymbol:false, symbol:'none', silent:true, z:3,
      lineStyle:{color:PALETTE[i], width:1.6}, itemStyle:{color:PALETTE[i]} };
    if (i === 5) {
      s.markLine = { silent:true, symbol:['none','none'], label:{show:false},
        lineStyle:{color:'#1a1a1a', width:1.4, type:'solid'}, data:[{yAxis:0}] };
    }
    option.series.push(s);
  });
  const rowH = b.rugH / 6;
  p.hits.forEach((h, i) => {
    option.series.push({ type:'scatter', name:p.gene + ' hits ' + i, xAxisIndex:gi+1, yAxisIndex:gi+1,
      data:h.map(r => [r, i]), symbol:'rect', symbolSize:[1.3, rowH * 0.92], silent:true,
      itemStyle:{color:PALETTE[i], opacity:1} });
  });

  option.legend.push({ left:b.lgLeft, top:b.lgTop, orient:'vertical', padding:0,
    itemWidth:28, itemHeight:2, itemGap:2.4, icon:'rect', selectedMode:false,
    textStyle:{fontFamily:SERIF, fontSize:10.3, color:'#333', lineHeight:12, padding:[0,0,0,4]},
    data:p.terms.map((t, i) => ({ name:t, itemStyle:{color:PALETTE[i], borderWidth:0, borderColor:PALETTE[i]} })) });

  option.title.push({ text:p.gene, left:b.tLeft, top:b.tTop, padding:0,
    textStyle:{fontFamily:SERIF, fontSize:15, fontWeight:'normal', color:'#222'} });

  option.graphic.push({ type:'text', x:b.capX, y:b.capY, silent:true,
    style:{text:p.tag, fill:'#222', font:'19px ' + SERIF, textAlign:'center', textVerticalAlign:'middle'} });
});

const chart = echarts.init(document.getElementById('chart'), null, {renderer:'canvas'});
chart.setOption(option);
</script>
</body>
</html>
